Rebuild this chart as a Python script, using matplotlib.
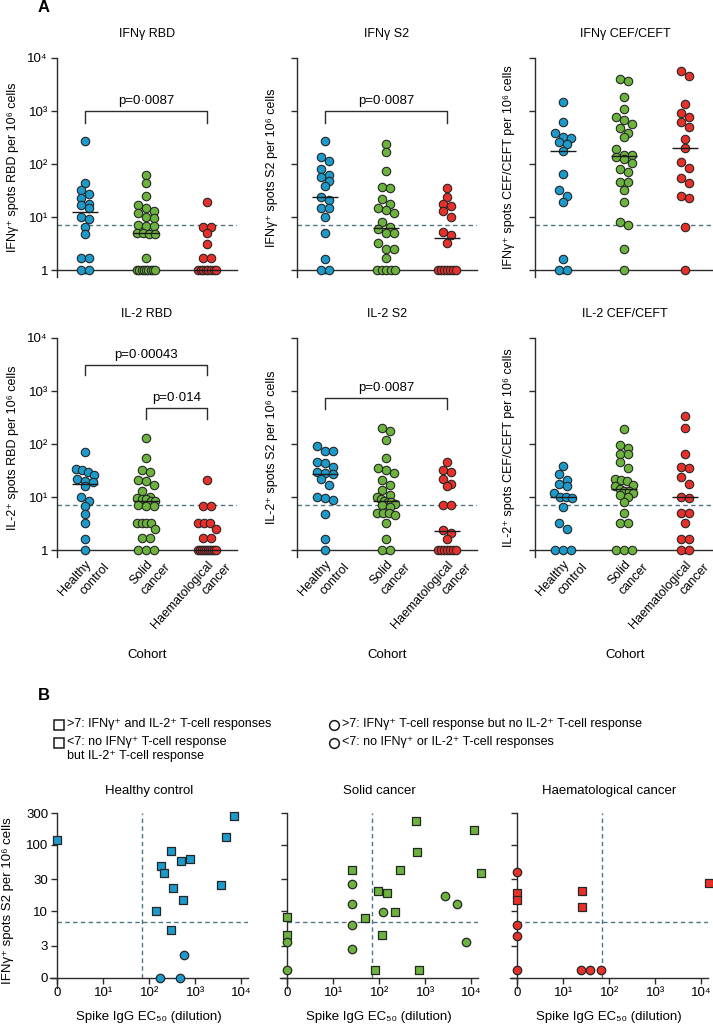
import numpy as np
import matplotlib
matplotlib.use("Agg")
import matplotlib.pyplot as plt
from matplotlib.lines import Line2D
from matplotlib.ticker import NullLocator, FixedLocator

plt.rcParams['font.family'] = ['Liberation Sans', 'DejaVu Sans']
plt.rcParams['font.size'] = 9

# ---------------- Panel A data ----------------
cohort_first = ["Healthy", "Solid", "Haematological"]
cohort_second = ["control", "cancer", "cancer"]
cohort_colors = ["#1B9ACB", "#6CB33E", "#E8302A"]
a_titles = ["IFNγ RBD", "IFNγ S2", "IFNγ CEF/CEFT", "IL-2 RBD", "IL-2 S2", "IL-2 CEF/CEFT"]
a_ylabels = ["IFNγ⁺ spots RBD per 10⁶ cells", "IFNγ⁺ spots S2 per 10⁶ cells",
             "IFNγ⁺ spots CEF/CEFT per 10⁶ cells", "IL-2⁺ spots RBD per 10⁶ cells",
             "IL-2⁺ spots S2 per 10⁶ cells", "IL-2⁺ spots CEF/CEFT per 10⁶ cells"]
a_ytick_values = [1, 10, 100, 1000, 10000]
a_ytick_labels = ["1", "10¹", "10²", "10³", "10⁴"]
a_xlabel = "Cohort"
threshold = 7

ifng_rbd_healthy = [275, 44, 32, 27, 23, 18, 17, 15, 10, 9, 6.5, 4.8, 1.7, 1.7, 1, 1]
ifng_rbd_solid = [62, 43, 25, 17, 15, 13, 12, 10, 9.5, 7, 6.8, 6.8, 5, 5, 4.8, 4.8, 1.7,
                  1, 1, 1, 1, 1, 1, 1, 1, 1]
ifng_rbd_haem = [19, 6.6, 6.6, 4.9, 3.1, 1.7, 1.7, 1, 1, 1, 1, 1, 1, 1, 1]

ifng_s2_healthy = [270, 138, 114, 80, 62, 58, 48, 39, 24, 21, 15, 14.6, 10, 4.9, 1.6, 1, 1]
ifng_s2_solid = [240, 170, 74, 37, 36, 22, 18, 14.6, 13.5, 11.7, 8.2, 6.5, 6.0, 4.9, 4.9,
                 3.2, 2.5, 2.5, 1.7, 1, 1, 1, 1, 1]
ifng_s2_haem = [36, 24, 17.6, 16, 13, 10, 5.2, 4.6, 3.3, 1, 1, 1, 1, 1, 1, 1]

ifng_cef_healthy = [1450, 610, 390, 330, 315, 265, 240, 175, 65, 33, 25, 19.5, 1.6, 1, 1]
ifng_cef_solid = [4000, 3700, 1870, 1070, 760, 680, 570, 470, 380, 330, 190, 148, 148, 138,
                  123, 106, 79, 72, 46, 46, 32, 19.5, 8.2, 7, 2.5, 1]
ifng_cef_haem = [5600, 4600, 1350, 910, 780, 630, 490, 300, 205, 108, 83, 54, 43, 25, 23,
                 6.4, 1]

il2_rbd_healthy = [70, 34, 32, 30, 26, 22, 20, 19, 16, 10, 8.5, 6.9, 4.8, 3.3, 1.6, 1]
il2_rbd_solid = [132, 55, 33, 30, 21, 20, 17, 13, 10, 9.5, 9, 9, 8.5, 8.5, 7, 6.8, 6.8,
                 3.3, 3.3, 3.3, 3.3, 2.5, 1.7, 1.7, 1, 1, 1]
il2_rbd_haem = [21, 6.7, 6.7, 3.3, 3.3, 3.3, 2.5, 1.7, 1.7, 1, 1, 1, 1, 1, 1, 1, 1, 1, 1]

il2_s2_healthy = [90, 75, 74, 46, 43, 37, 30, 28, 27, 22, 17, 10, 9.4, 8.7, 4.8, 1.6, 1]
il2_s2_solid = [200, 175, 120, 55, 36, 33, 28, 21, 17, 13.5, 11, 10, 9, 8.5, 8.2, 8, 7.5, 7,
                6.5, 5, 5, 4.9, 4.5, 3.3, 1.6, 1, 1]
il2_s2_haem = [45, 33, 30, 22, 18, 16, 7, 7, 2.4, 2.1, 1.6, 1, 1, 1, 1, 1, 1, 1]

il2_cef_healthy = [39, 27, 21, 18, 16, 12, 10, 10, 9.7, 6.6, 3.3, 2.5, 1, 1, 1]
il2_cef_solid = [190, 96, 83, 66, 64, 46, 36, 22, 21, 20, 17, 16, 14, 13, 13, 12, 11, 10,
                 8.1, 4.9, 3.3, 3.3, 1, 1, 1]
il2_cef_haem = [340, 200, 64, 37, 35, 24, 18, 10, 9.7, 4.9, 4.9, 3.3, 1.6, 1.6, 1, 1]

a_panels = [
    (ifng_rbd_healthy, ifng_rbd_solid, ifng_rbd_haem),
    (ifng_s2_healthy, ifng_s2_solid, ifng_s2_haem),
    (ifng_cef_healthy, ifng_cef_solid, ifng_cef_haem),
    (il2_rbd_healthy, il2_rbd_solid, il2_rbd_haem),
    (il2_s2_healthy, il2_s2_solid, il2_s2_haem),
    (il2_cef_healthy, il2_cef_solid, il2_cef_haem),
]

# p-value comparisons: (panel index, group a, group b, label)
p_comparisons = [
    (0, 0, 2, "p=0·0087"),
    (1, 0, 2, "p=0·0087"),
    (3, 0, 2, "p=0·00043"),
    (3, 1, 2, "p=0·014"),
    (4, 0, 2, "p=0·0087"),
]

# ---------------- Panel B data ----------------
b_titles = ["Healthy control", "Solid cancer", "Haematological cancer"]
b_xlabel = "Spike IgG EC₅₀ (dilution)"
b_ylabel = "IFNγ⁺ spots S2 per 10⁶ cells"
b_xtick_values = [1, 10, 100, 1000, 10000]
b_xtick_labels = ["0", "10¹", "10²", "10³", "10⁴"]
b_ytick_values = [1, 3, 10, 30, 100, 300]
b_ytick_labels = ["0", "3", "10", "30", "100", "300"]
igg_threshold = 70

hc_igg = [0, 6900, 4600, 300, 490, 770, 180, 210, 3600, 330, 530, 140, 300, 580, 175, 460]
hc_s2 = [117, 272, 132, 81, 56, 61, 48, 38, 25, 22, 15, 10, 5.2, 2.2, 0, 0]
hc_il2 = [1, 1, 1, 1, 1, 1, 1, 1, 1, 1, 1, 1, 1, 0, 0, 0]

sc_igg = [620, 11200, 650, 290, 26, 16000, 26, 92, 148, 2640, 4900, 26, 123, 215, 0, 50,
          26, 115, 0, 0, 7700, 26, 0, 81, 740]
sc_s2 = [230, 166, 77, 42, 41, 38, 26, 20, 19, 17, 13, 13, 9.8, 9.8, 8.1, 7.9, 6.2, 4.4,
         4.4, 3.5, 3.5, 2.7, 1.3, 1.3, 1.3]
sc_il2 = [1, 1, 1, 1, 1, 1, 0, 1, 1, 0, 0, 0, 0, 1, 1, 1, 0, 1, 1, 0, 0, 0, 0, 1, 1]

hm_igg = [0, 0, 0, 26, 26, 14500, 0, 0, 0, 25, 38, 68]
hm_s2 = [39, 19, 15, 20, 11.5, 27, 6.1, 4.3, 1.3, 1.3, 1.3, 1.3]
hm_il2 = [0, 1, 1, 1, 1, 1, 0, 0, 0, 0, 0, 0]

b_panels = [(hc_igg, hc_s2, hc_il2), (sc_igg, sc_s2, sc_il2), (hm_igg, hm_s2, hm_il2)]

legend_entries = [
    ("s", ">7: IFNγ⁺ and IL-2⁺ T-cell responses"),
    ("s", "<7: no IFNγ⁺ T-cell response\nbut IL-2⁺ T-cell response"),
    ("o", ">7: IFNγ⁺ T-cell response but no IL-2⁺ T-cell response"),
    ("o", "<7: no IFNγ⁺ or IL-2⁺ T-cell responses"),
]

# ---------------- layout / style ----------------
W, H = 713, 1029
fig = plt.figure(figsize=(W / 100, H / 100), dpi=100)
AX_COL = "#2b2b2b"
DASH_COL = "#4f7686"
DASH = (0, (3.2, 2.4))
EDGE = "#262626"
MS = 37          # scatter marker area (pt^2)
DIAM_PX = 8.4


def fx(px):
    return px / W


def fy(py):
    return 1 - py / H


def swarm(ax, xc, values):
    """Spread points of a column horizontally in rows (scatter dot plot style)."""
    vals = np.asarray(values, float)
    ypx = ax.transData.transform(np.column_stack([np.full(len(vals), xc), vals]))[:, 1]
    unit = ax.transData.transform((1, 1))[0] - ax.transData.transform((0, 1))[0]
    order = np.argsort(-vals, kind="stable")
    rows = []
    for idx in order:
        if rows and abs(ypx[rows[-1][0]] - ypx[idx]) < DIAM_PX * 0.8:
            rows[-1].append(idx)
        else:
            rows.append([idx])
    offs = np.zeros(len(vals))
    half = 9.0
    for row in rows:
        n = len(row)
        if n == 1:
            continue
        sp = min(DIAM_PX * 0.95, 2 * half / (n - 1))
        pos = (np.arange(n) - (n - 1) / 2) * sp
        for i, idx in enumerate(row):
            offs[idx] = pos[i]
    return xc + offs / unit


a_left_px = [57, 297, 535]
a_top_px = [58, 338]
a_w_px, a_h_px = 180, 219
a_ylabel_x = [-0.21, -0.105, -0.11]
bracket_geom = {  # (panel, a, b) -> (bracket top, tick bottom)
    (0, 0, 2): (1000, 600),
    (1, 0, 2): (1000, 600),
    (3, 0, 2): (3100, 2000),
    (3, 1, 2): (480, 300),
    (4, 0, 2): (740, 460),
}

for p in range(6):
    r, c = divmod(p, 3)
    ax = fig.add_axes([fx(a_left_px[c]), fy(a_top_px[r] + a_h_px), a_w_px / W, a_h_px / H])
    ax.set_yscale("log")
    ax.set_xlim(-0.46, 2.49)
    ax.set_ylim(0.74, 1e4)
    for s in ("top", "right"):
        ax.spines[s].set_visible(False)
    ax.spines["bottom"].set_position(("data", 1))
    for s in ("bottom", "left"):
        ax.spines[s].set_color(AX_COL)
        ax.spines[s].set_linewidth(1.0)
    ax.yaxis.set_major_locator(FixedLocator(a_ytick_values))
    ax.yaxis.set_minor_locator(NullLocator())
    ax.set_yticklabels(a_ytick_labels if c == 0 else [""] * len(a_ytick_values), fontsize=9.5)
    ax.set_xticks([0, 1, 2])
    ax.tick_params(axis="both", direction="out", length=4.5, width=1.0, color=AX_COL, pad=2)
    ax.tick_params(axis="x", which="major", length=3, pad=3)
    if r == 1:
        ax.set_xticklabels(cohort_first, rotation=48, ha="right", va="top",
                           rotation_mode="anchor", fontsize=9)
        ax.set_xticks([0.3, 1.3, 2.3], minor=True)
        ax.set_xticklabels(cohort_second, minor=True, rotation=48, ha="right", va="top",
                           rotation_mode="anchor", fontsize=9)
        ax.tick_params(axis="x", which="minor", length=0, pad=8)
        ax.set_xlabel(a_xlabel, fontsize=9.5)
        ax.xaxis.set_label_coords(0.5, -0.42)
    else:
        ax.set_xticklabels([])
    ax.set_title(a_titles[p], fontsize=9, pad=15)
    ax.set_ylabel(a_ylabels[p], fontsize=9)
    ax.yaxis.set_label_coords(a_ylabel_x[c], 0.5)

    ax.axhline(threshold, color=DASH_COL, lw=1.0, ls=DASH, zorder=1)
    for g, vals in enumerate(a_panels[p]):
        xs = swarm(ax, g, vals)
        ax.scatter(xs, vals, s=MS, c=cohort_colors[g], edgecolors=EDGE, linewidths=0.8,
                   zorder=3, clip_on=False)
        med = np.median(vals)
        ax.plot([g - 0.21, g + 0.21], [med, med], color="#1a1a1a", lw=1.0, zorder=4,
                solid_capstyle="butt")

    for (pp, ga, gb, lab) in p_comparisons:
        if pp != p:
            continue
        top, bot = bracket_geom[(pp, ga, gb)]
        ax.plot([ga, ga, gb, gb], [bot, top, top, bot], color=AX_COL, lw=1.0, zorder=2)
        ax.text((ga + gb) / 2, top * 1.2, lab, ha="center", va="bottom", fontsize=9.5)

# ---------------- Panel B ----------------
b_yaxis_px = [57, 287, 517]
b_w_px, b_h_px = 198, 175
b_top_px = 813
for k, (igg, s2, il2) in enumerate(b_panels):
    left = b_yaxis_px[k] - 7
    ax = fig.add_axes([fx(left), fy(b_top_px + b_h_px), b_w_px / W, b_h_px / H])
    ax.set_xscale("log")
    ax.set_yscale("log")
    ax.set_xlim(0.7, 1.4e4)
    ax.set_ylim(0.7, 300)
    for s in ("top", "right"):
        ax.spines[s].set_visible(False)
    ax.spines["bottom"].set_position(("data", 1))
    ax.spines["left"].set_position(("data", 1))
    for s in ("bottom", "left"):
        ax.spines[s].set_color(AX_COL)
        ax.spines[s].set_linewidth(1.0)
    ax.xaxis.set_major_locator(FixedLocator(b_xtick_values))
    ax.xaxis.set_minor_locator(NullLocator())
    ax.yaxis.set_major_locator(FixedLocator(b_ytick_values))
    ax.yaxis.set_minor_locator(NullLocator())
    ax.set_xticklabels(b_xtick_labels, fontsize=9.5)
    ax.set_yticklabels(b_ytick_labels if k == 0 else [""] * len(b_ytick_values), fontsize=9.5)
    ax.tick_params(axis="both", direction="out", length=4.5, width=1.0, color=AX_COL, pad=2)
    ax.set_title(b_titles[k], fontsize=9.5, pad=14)
    ax.set_xlabel(b_xlabel, fontsize=9.5)
    ax.xaxis.set_label_coords(0.5, -0.13)
    if k == 0:
        ax.set_ylabel(b_ylabel, fontsize=9.5)
        ax.yaxis.set_label_coords(-0.18, 0.5)

    ax.plot([igg_threshold, igg_threshold], [1, 300], color=DASH_COL, lw=1.0, ls=DASH, zorder=1)
    ax.plot([1, 1.4e4], [threshold, threshold], color=DASH_COL, lw=1.0, ls=DASH, zorder=1)
    xs = np.where(np.asarray(igg, float) == 0, 1, igg)
    ys = np.where(np.asarray(s2, float) == 0, 1, s2)
    il2a = np.asarray(il2, bool)
    ax.scatter(xs[il2a], ys[il2a], marker="s", s=34, c=cohort_colors[k], edgecolors=EDGE,
               linewidths=0.9, zorder=3, clip_on=False)
    ax.scatter(xs[~il2a], ys[~il2a], marker="o", s=MS, c=cohort_colors[k], edgecolors=EDGE,
               linewidths=0.9, zorder=3, clip_on=False)

# ---------------- panel letters & legend ----------------
fig.text(fx(38), fy(8), "A", fontsize=12, fontweight="bold", ha="left", va="center")
fig.text(fx(38), fy(695), "B", fontsize=12, fontweight="bold", ha="left", va="center")

leg_pos = [(59, 725), (59, 743), (334, 725), (334, 743)]
for (mk, txt), (px, py) in zip(legend_entries, leg_pos):
    fig.add_artist(Line2D([fx(px)], [fy(py)], marker=mk, markersize=6.5 if mk == "s" else 7,
                          markerfacecolor="white", markeredgecolor="#1a1a1a",
                          markeredgewidth=1.1, transform=fig.transFigure, linestyle="none"))
    fig.text(fx(px + 8), fy(py - 7), txt, fontsize=9, ha="left", va="top", linespacing=1.25)

fig.savefig("out.png", dpi=100, facecolor="white")
